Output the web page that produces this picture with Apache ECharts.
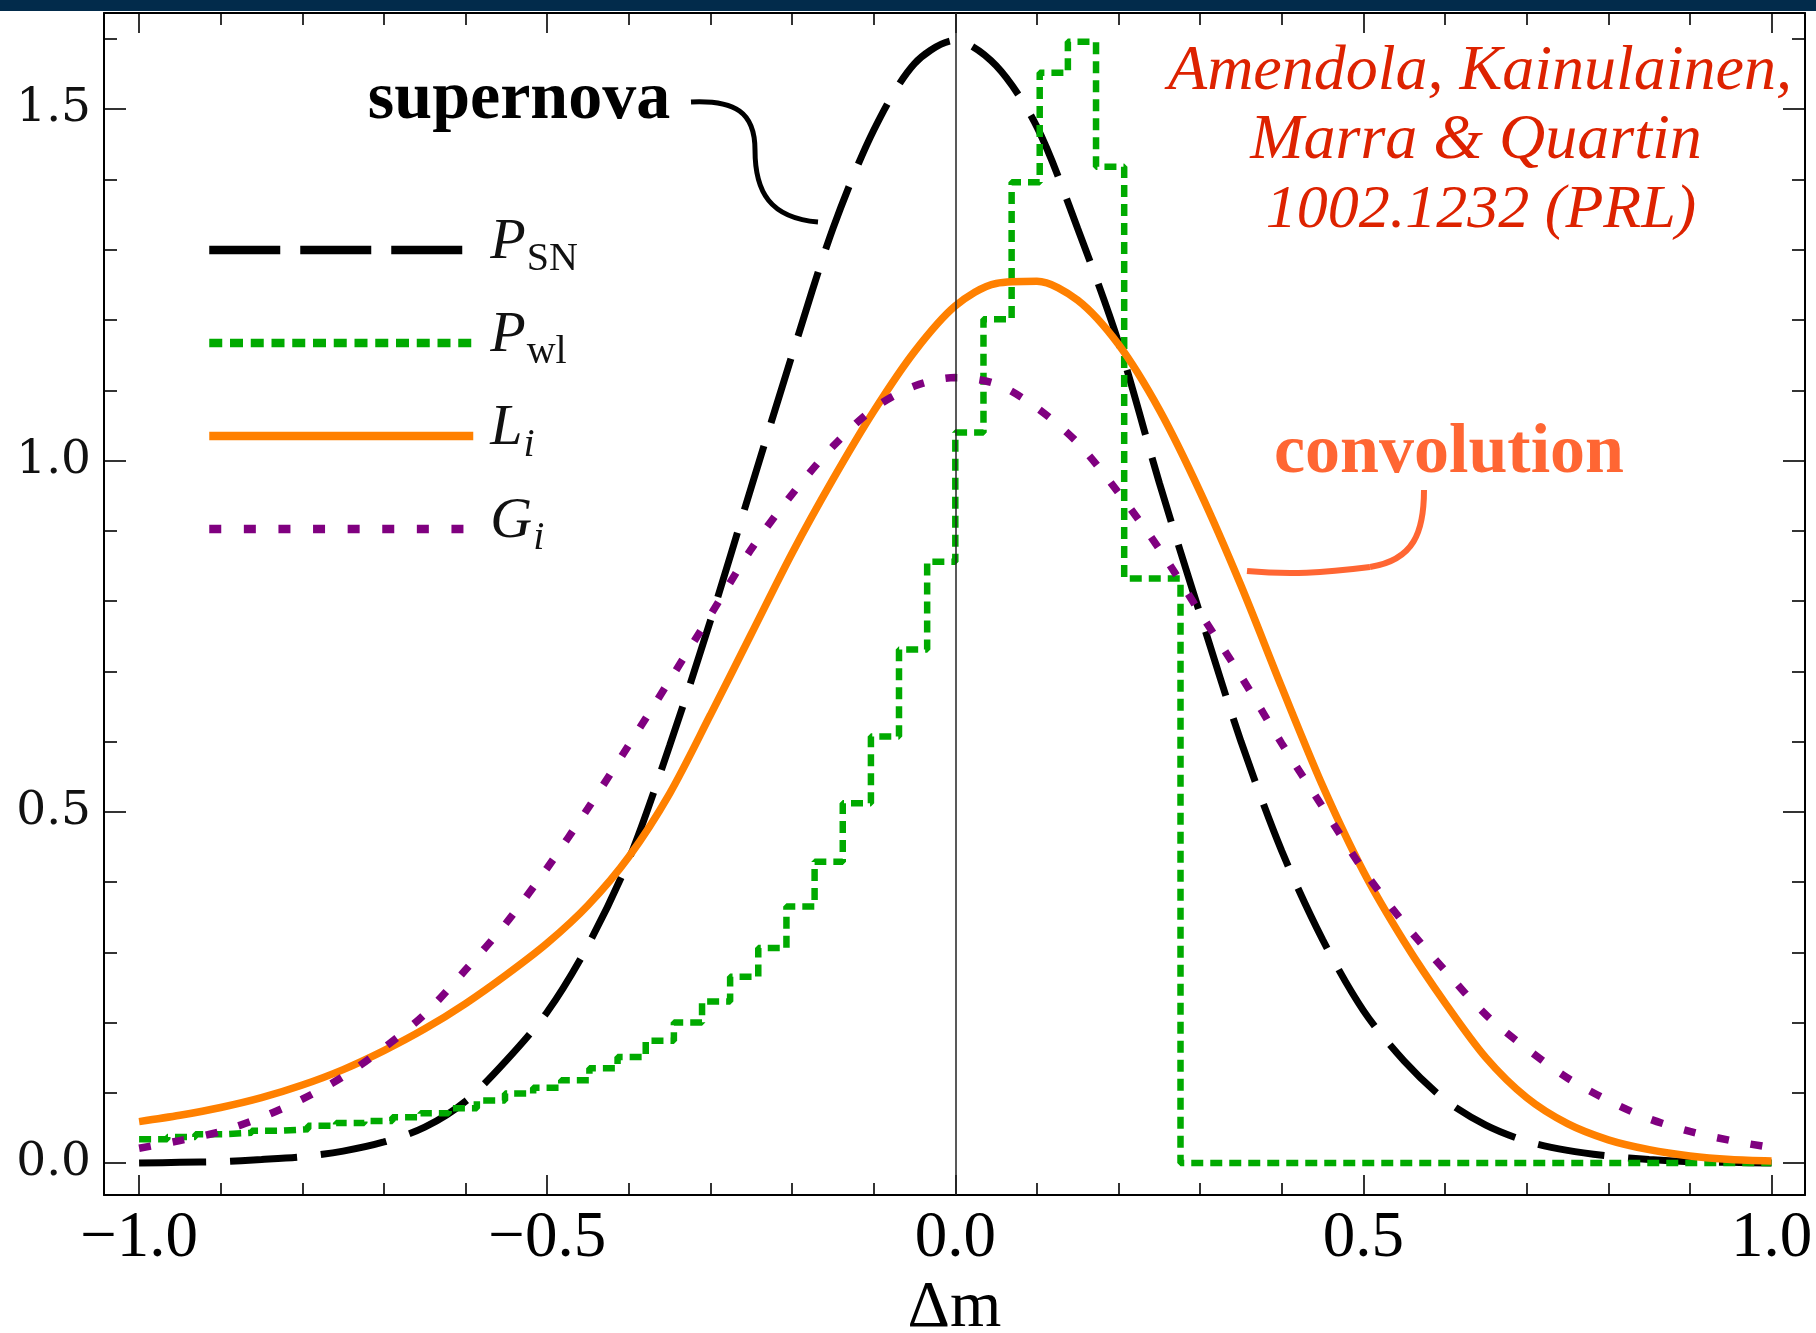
<!DOCTYPE html>
<html>
<head>
<meta charset="utf-8">
<script src="https://cdn.jsdelivr.net/npm/echarts@6/dist/echarts.min.js"></script>
<style>html,body{margin:0;padding:0;background:#fff;}#c{width:1816px;height:1333px;}</style>
</head>
<body>
<div id="c"></div>
<script>
// ---- data ----
const xs = [-1,-0.95,-0.9,-0.85,-0.8,-0.75,-0.7,-0.65,-0.6,-0.55,-0.5,-0.45,-0.4,-0.35,-0.3,-0.25,-0.2,-0.15,-0.1,-0.05,0,0.05,0.1,0.15,0.2,0.25,0.3,0.35,0.4,0.45,0.5,0.55,0.6,0.65,0.7,0.75,0.8,0.85,0.9,0.95,1];
const pSN = [0.000,0.001,0.002,0.005,0.009,0.017,0.030,0.051,0.088,0.146,0.215,0.310,0.432,0.594,0.772,0.962,1.150,1.330,1.470,1.565,1.598,1.562,1.475,1.330,1.168,0.968,0.781,0.600,0.444,0.318,0.217,0.145,0.090,0.054,0.031,0.018,0.010,0.005,0.002,0.001,0.000];
const lI = [0.059,0.068,0.079,0.093,0.111,0.133,0.160,0.191,0.227,0.268,0.313,0.367,0.436,0.526,0.638,0.753,0.868,0.973,1.070,1.155,1.220,1.252,1.255,1.228,1.165,1.072,0.955,0.822,0.677,0.537,0.415,0.315,0.228,0.150,0.093,0.056,0.033,0.019,0.010,0.005,0.003];
const gI = [0.021,0.032,0.045,0.065,0.091,0.123,0.164,0.212,0.275,0.342,0.420,0.505,0.595,0.687,0.780,0.874,0.952,1.020,1.074,1.106,1.118,1.109,1.075,1.025,0.954,0.874,0.783,0.693,0.597,0.507,0.417,0.341,0.274,0.211,0.163,0.121,0.089,0.063,0.045,0.032,0.022];
const binEdges = [-1.0000,-0.9655,-0.9310,-0.8966,-0.8621,-0.8276,-0.7931,-0.7586,-0.7241,-0.6897,-0.6552,-0.6207,-0.5862,-0.5517,-0.5172,-0.4828,-0.4483,-0.4138,-0.3793,-0.3448,-0.3103,-0.2759,-0.2414,-0.2069,-0.1724,-0.1379,-0.1034,-0.0690,-0.0345,0.0000,0.0345,0.0690,0.1034,0.1379,0.1724,0.2069,0.2414,0.2759,1.0000];
const pWL = [0.034,0.037,0.041,0.043,0.046,0.048,0.053,0.057,0.060,0.065,0.071,0.078,0.089,0.099,0.107,0.118,0.135,0.151,0.174,0.200,0.230,0.265,0.306,0.365,0.429,0.512,0.607,0.731,0.856,1.040,1.201,1.396,1.552,1.596,1.418,0.832,0.832,0,0];

const xMajorTicks = [-1, -0.5, 0, 0.5, 1];
const xTickLabels = ['\u22121.0', '\u22120.5', '0.0', '0.5', '1.0'];
const xMinorTicks = [-0.9,-0.8,-0.7,-0.6,-0.4,-0.3,-0.2,-0.1,0.1,0.2,0.3,0.4,0.6,0.7,0.8,0.9];
const yMajorTicks = [0, 0.5, 1.0, 1.5];
const yTickLabels = ['0.0', '0.5', '1.0', '1.5'];
const yMinorTicks = [0.1,0.2,0.3,0.4,0.6,0.7,0.8,0.9,1.1,1.2,1.3,1.4,1.6];

const seriesNames = ['PSN', 'Pwl', 'Li', 'Gi'];
const legendLabels = {PSN: '{p|P}{s|SN}', Pwl: '{p|P}{s|wl}', Li: '{p|L}{si|i}', Gi: '{p|G}{si|i}'};
const annotationAuthors = ['Amendola, Kainulainen,', 'Marra & Quartin', '1002.1232 (PRL)'];

// ---- layout ----
const X_MIN = -1.043, X_MAX = 1.041, Y_MIN = -0.0455, Y_MAX = 1.637;

function pick(vals, labels) {
  return v => { for (let i = 0; i < vals.length; i++) if (Math.abs(v - vals[i]) < 1e-6) return labels[i]; return ''; };
}
function xAx(pos, ticks, len, line, label) {
  return {
    type: 'value', min: X_MIN, max: X_MAX, position: pos,
    axisLine: {show: line, onZero: false, lineStyle: {color: '#000', width: 2}},
    axisTick: {show: true, inside: true, length: len, customValues: ticks, lineStyle: {color: '#000', width: 1.6}},
    axisLabel: {show: label, customValues: ticks, formatter: pick(xMajorTicks, xTickLabels), margin: 11,
      fontFamily: 'Liberation Serif', fontSize: 65, color: '#000'},
    splitLine: {show: false}
  };
}
function yAx(pos, ticks, len, line, label) {
  return {
    type: 'value', min: Y_MIN, max: Y_MAX, position: pos,
    axisLine: {show: line, onZero: false, lineStyle: {color: '#000', width: 2}},
    axisTick: {show: true, inside: true, length: len, customValues: ticks, lineStyle: {color: '#000', width: 1.6}},
    axisLabel: {show: label, customValues: ticks, formatter: pick(yMajorTicks, yTickLabels), margin: 13,
      fontFamily: 'DejaVu Serif', fontSize: 47, color: '#111'},
    splitLine: {show: false}
  };
}

const xMain = xAx('bottom', xMajorTicks, 20, true, true);
xMain.name = '\u0394m';
xMain.nameLocation = 'middle';
xMain.nameGap = 79;
xMain.nameTextStyle = {fontFamily: 'Liberation Serif', fontSize: 66, color: '#000'};

const chart = echarts.init(document.getElementById('c'), null, {renderer: 'canvas'});
chart.setOption({
  animation: false,
  backgroundColor: '#fff',
  grid: {left: 104, right: 11, top: 13, bottom: 138, outerBoundsMode: 'none'},
  xAxis: [xMain, xAx('bottom', xMinorTicks, 12, false, false), xAx('top', xMajorTicks, 20, true, false), xAx('top', xMinorTicks, 12, false, false)],
  yAxis: [yAx('left', yMajorTicks, 22, true, true), yAx('left', yMinorTicks, 13, false, false), yAx('right', yMajorTicks, 22, true, false), yAx('right', yMinorTicks, 13, false, false)],
  legend: {
    orient: 'vertical', left: 205, top: 214, itemWidth: 264, itemHeight: 74, itemGap: 21, padding: 0,
    selectedMode: false,
    itemStyle: {opacity: 0},
    lineStyle: {width: 8.5},
    data: [
      {name: 'PSN', lineStyle: {type: [71, 20]}},
      {name: 'Pwl', lineStyle: {type: [13, 7.75]}},
      {name: 'Li'},
      {name: 'Gi', lineStyle: {type: [12, 22.6]}}
    ],
    formatter: n => legendLabels[n],
    textStyle: {
      color: '#111',
      rich: {
        p: {fontFamily: 'Liberation Serif', fontStyle: 'italic', fontSize: 58, lineHeight: 60, padding: [0, 0, 14, 12], color: '#111'},
        s: {fontFamily: 'Liberation Serif', fontSize: 40, lineHeight: 40, padding: [18, 0, 0, 1], color: '#111'},
        si: {fontFamily: 'Liberation Serif', fontStyle: 'italic', fontSize: 40, lineHeight: 40, padding: [18, 0, 0, 1], color: '#111'}
      }
    }
  },
  series: [
    {name: seriesNames[0], type: 'line', data: xs.map((x, i) => [x, pSN[i]]), symbol: 'none', smooth: 0.3,
      lineStyle: {color: '#000', width: 7, type: [67, 24]}, itemStyle: {color: '#000'},
      markLine: {silent: true, symbol: 'none', label: {show: false}, lineStyle: {color: '#222', width: 1.5, type: 'solid'}, data: [{xAxis: 0}]}},
    {name: seriesNames[1], type: 'line', step: 'end', data: binEdges.map((x, i) => [x, pWL[i]]), symbol: 'none',
      lineStyle: {color: '#00aa00', width: 6.5, type: [12, 7]}, itemStyle: {color: '#00aa00'}},
    {name: seriesNames[2], type: 'line', data: xs.map((x, i) => [x, lI[i]]), symbol: 'none', smooth: 0.3,
      lineStyle: {color: '#ff8000', width: 7.5, type: 'solid'}, itemStyle: {color: '#ff8000'}},
    {name: seriesNames[3], type: 'line', data: xs.map((x, i) => [x, gI[i]]), symbol: 'none', smooth: 0.3,
      lineStyle: {color: '#800080', width: 7.5, type: [12, 22]}, itemStyle: {color: '#800080'}}
  ],
  graphic: [
    {type: 'rect', shape: {x: 0, y: 0, width: 1816, height: 11}, style: {fill: '#022b4b'}, z: 100},
    {type: 'text', x: 519, y: 100, style: {text: 'supernova', fill: '#000', font: 'bold 68px "Liberation Serif"', textAlign: 'center', textVerticalAlign: 'middle', align: 'center', verticalAlign: 'middle'}, z: 50},
    {type: 'text', x: 1449, y: 454, style: {text: 'convolution', fill: '#ff6633', font: 'bold 70px "Liberation Serif"', textAlign: 'center', textVerticalAlign: 'middle', align: 'center', verticalAlign: 'middle'}, z: 50},
    {type: 'text', x: 1480, y: 72, style: {text: annotationAuthors[0], fill: '#dd2200', font: 'italic 64px "Liberation Serif"', textAlign: 'center', textVerticalAlign: 'middle', align: 'center', verticalAlign: 'middle'}, z: 50},
    {type: 'text', x: 1476, y: 141, style: {text: annotationAuthors[1], fill: '#dd2200', font: 'italic 64px "Liberation Serif"', textAlign: 'center', textVerticalAlign: 'middle', align: 'center', verticalAlign: 'middle'}, z: 50},
    {type: 'text', x: 1481, y: 211, style: {text: annotationAuthors[2], fill: '#dd2200', font: 'italic 62px "Liberation Serif"', textAlign: 'center', textVerticalAlign: 'middle', align: 'center', verticalAlign: 'middle'}, z: 50},
    {type: 'bezierCurve', shape: {x1: 691, y1: 102, cpx1: 735, cpy1: 100, cpx2: 755, cpy2: 112, x2: 755, y2: 150}, style: {stroke: '#000', lineWidth: 5, fill: null}, z: 50},
    {type: 'bezierCurve', shape: {x1: 755, y1: 150, cpx1: 755, cpy1: 192, cpx2: 770, cpy2: 218, x2: 818, y2: 222}, style: {stroke: '#000', lineWidth: 5, fill: null}, z: 50},
    {type: 'bezierCurve', shape: {x1: 1424, y1: 490, cpx1: 1424, cpy1: 532, cpx2: 1414, cpy2: 560, x2: 1370, y2: 567}, style: {stroke: '#ff6633', lineWidth: 6, fill: null}, z: 50},
    {type: 'bezierCurve', shape: {x1: 1370, y1: 567, cpx1: 1322, cpy1: 573, cpx2: 1290, cpy2: 575, x2: 1247, y2: 571}, style: {stroke: '#ff6633', lineWidth: 6, fill: null}, z: 50}
  ]
});
</script>
</body>
</html>
